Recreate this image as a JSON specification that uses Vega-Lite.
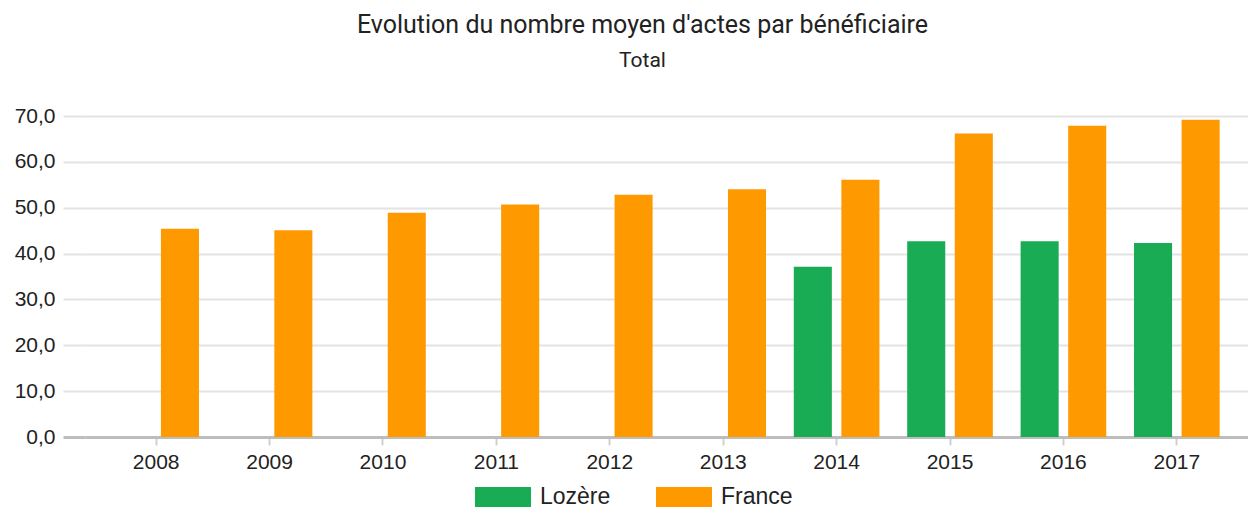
{
  "$schema": "https://vega.github.io/schema/vega-lite/v6.json",
  "autosize": "none",
  "padding": {"left": 85, "top": 116, "right": 0, "bottom": 76},
  "width": 1163,
  "height": 321,
  "background": "white",
  "title": {
    "text": "Evolution du nombre moyen d'actes par bénéficiaire",
    "subtitle": "Total",
    "anchor": "middle",
    "dx": -24,
    "font": "Roboto",
    "fontSize": 25,
    "fontWeight": "normal",
    "color": "#222222",
    "subtitleFont": "Roboto",
    "subtitleFontSize": 21,
    "subtitleColor": "#222222",
    "subtitlePadding": 12,
    "offset": 34
  },
  "data": {
    "values": [
      {"annee": "2008", "zone": "France", "valeur": 45.4},
      {"annee": "2009", "zone": "France", "valeur": 45.1},
      {"annee": "2010", "zone": "France", "valeur": 48.9},
      {"annee": "2011", "zone": "France", "valeur": 50.7},
      {"annee": "2012", "zone": "France", "valeur": 52.8},
      {"annee": "2013", "zone": "France", "valeur": 54.0},
      {"annee": "2014", "zone": "Lozère", "valeur": 37.1},
      {"annee": "2014", "zone": "France", "valeur": 56.1},
      {"annee": "2015", "zone": "Lozère", "valeur": 42.7},
      {"annee": "2015", "zone": "France", "valeur": 66.2},
      {"annee": "2016", "zone": "Lozère", "valeur": 42.7},
      {"annee": "2016", "zone": "France", "valeur": 67.9},
      {"annee": "2017", "zone": "Lozère", "valeur": 42.3},
      {"annee": "2017", "zone": "France", "valeur": 69.2}
    ]
  },
  "mark": {"type": "bar"},
  "encoding": {
    "x": {
      "field": "annee",
      "type": "nominal",
      "scale": {"paddingInner": 0.245, "paddingOuter": 0.25},
      "axis": {
        "title": null,
        "labelAngle": 0,
        "labelFont": "Liberation Sans",
        "labelFontSize": 21,
        "labelColor": "#222222",
        "labelPadding": 6,
        "domainColor": "#bdbdbd",
        "domainWidth": 3,
        "tickColor": "#d0d0d0",
        "tickWidth": 2,
        "tickSize": 8,
        "grid": false
      }
    },
    "xOffset": {
      "field": "zone",
      "type": "nominal",
      "scale": {"domain": ["Lozère", "France"], "paddingInner": 0.2, "paddingOuter": 0}
    },
    "y": {
      "field": "valeur",
      "type": "quantitative",
      "scale": {"domain": [0, 70], "nice": false},
      "axis": {
        "title": null,
        "values": [0, 10, 20, 30, 40, 50, 60, 70],
        "labelExpr": "replace(format(datum.value, '.1f'), '.', ',')",
        "labelFont": "Liberation Sans",
        "labelFontSize": 21,
        "labelColor": "#222222",
        "labelPadding": 8,
        "domain": false,
        "tickSize": 22,
        "tickColor": {"condition": {"test": "datum.value === 0", "value": "#bdbdbd"}, "value": "#e3e3e3"},
        "tickWidth": {"condition": {"test": "datum.value === 0", "value": 3}, "value": 2},
        "grid": true,
        "gridColor": "#e3e3e3",
        "gridWidth": 2
      }
    },
    "color": {
      "field": "zone",
      "type": "nominal",
      "scale": {"domain": ["Lozère", "France"], "range": ["#1aab55", "#ff9900"]},
      "legend": {
        "title": null,
        "orient": "none",
        "direction": "horizontal",
        "legendX": 390,
        "legendY": 353,
        "padding": 0,
        "symbolType": "M-1,-0.36L1,-0.36L1,0.36L-1,0.36Z",
        "symbolSize": 3136,
        "symbolStrokeWidth": 0,
        "symbolOpacity": 1,
        "labelFont": "Liberation Sans",
        "labelFontSize": 23,
        "labelColor": "#222222",
        "labelOffset": 9,
        "columnPadding": 45
      }
    }
  },
  "config": {"view": {"stroke": null}}
}
